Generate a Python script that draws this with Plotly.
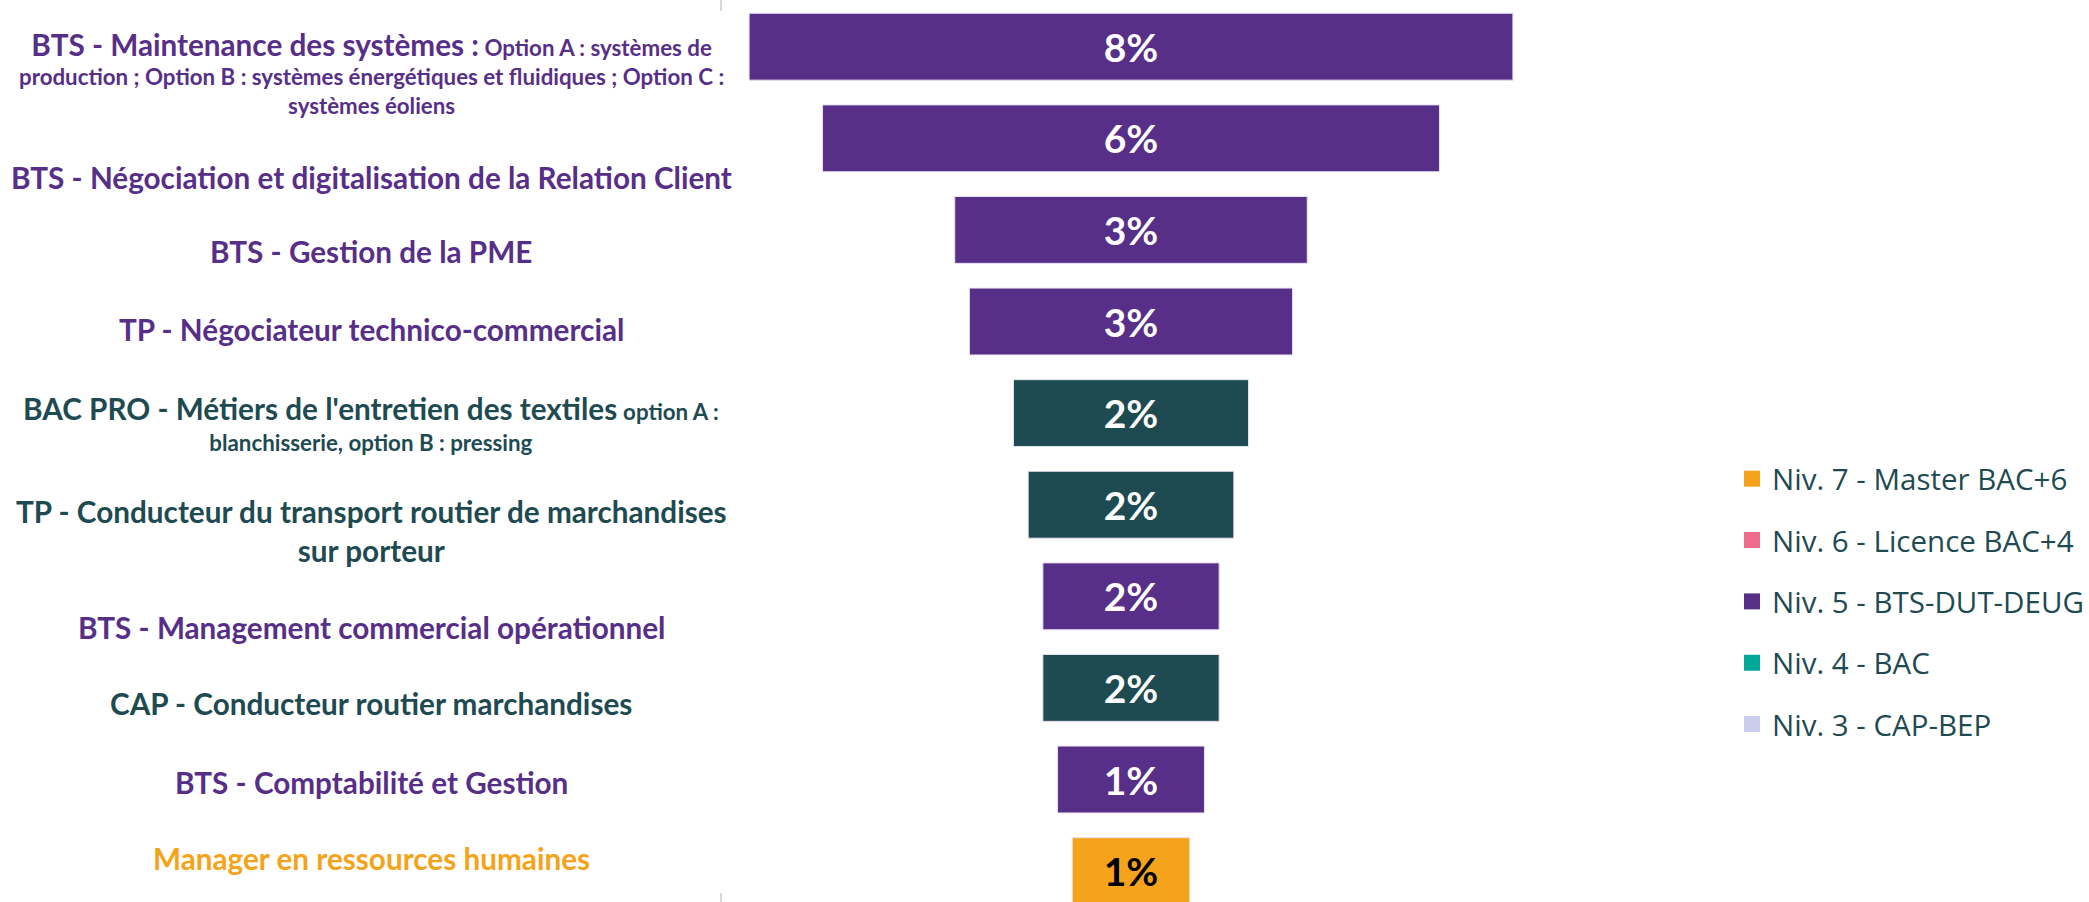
import plotly.graph_objects as go

# formations (top -> bottom), part des inscrits en %
formations = [
    "BTS - Maintenance des systèmes : Option A : systèmes de production ; Option B : systèmes énergétiques et fluidiques ; Option C : systèmes éoliens",
    "BTS - Négociation et digitalisation de la Relation Client",
    "BTS - Gestion de la PME",
    "TP - Négociateur technico-commercial",
    "BAC PRO - Métiers de l'entretien des textiles option A : blanchisserie, option B : pressing",
    "TP - Conducteur du transport routier de marchandises sur porteur",
    "BTS - Management commercial opérationnel",
    "CAP - Conducteur routier marchandises",
    "BTS - Comptabilité et Gestion",
    "Manager en ressources humaines",
]
parts = [7.54, 6.09, 3.48, 3.19, 2.32, 2.03, 1.74, 1.74, 1.45, 1.16]
niveaux = ["5", "5", "5", "5", "4", "3", "5", "3", "5", "7"]

legend_names = [
    "Niv. 7 - Master BAC+6",
    "Niv. 6 - Licence BAC+4",
    "Niv. 5 - BTS-DUT-DEUG",
    "Niv. 4 - BAC",
    "Niv. 3 - CAP-BEP",
]

# label text as displayed (mixed sizes, manual line breaks)
BIG = 'style="font-size:29.7px"'
SMALL = 'style="font-size:22.3px"'
labels_html = [
    f'<span {BIG}>BTS - Maintenance des systèmes :</span> Option A : systèmes de<br>'
    'production ; Option B : systèmes énergétiques et fluidiques ; Option C :<br>systèmes éoliens',
    "BTS - Négociation et digitalisation de la Relation Client",
    "BTS - Gestion de la PME",
    "TP - Négociateur technico-commercial",
    f"<span {BIG}>BAC PRO - Métiers de l'entretien des textiles</span> <span {SMALL}>option A :</span><br>"
    f"<span {SMALL}>blanchisserie, option B : pressing</span>",
    "TP - Conducteur du transport routier de marchandises<br>sur porteur",
    "BTS - Management commercial opérationnel",
    "CAP - Conducteur routier marchandises",
    "BTS - Comptabilité et Gestion",
    "Manager en ressources humaines",
]
label_sizes = [22.3, 29.7, 29.7, 29.7, 24, 29.7, 29.7, 29.7, 29.7, 29.7]

PURPLE = "#572F88"
TEAL_DARK = "#1E4A52"
ORANGE = "#F5A31A"
bar_colors = {"7": ORANGE, "5": PURPLE, "4": TEAL_DARK, "3": TEAL_DARK}
legend_colors = ["#F5A31A", "#EE6B8D", "#572F88", "#00A898", "#CBCDEE"]

W, H = 2089, 902
LABEL_FONT = "Lato, sans-serif"

colors = [bar_colors[n] for n in niveaux]
text_colors = ["black" if n == "7" else "white" for n in niveaux]

fig = go.Figure()
fig.add_trace(go.Funnel(
    y=formations,
    x=parts,
    text=[f"{round(v)}%" for v in parts],
    textinfo="text",
    textposition="inside",
    insidetextanchor="middle",
    constraintext="none",
    textfont=dict(family=LABEL_FONT, size=39, color=text_colors, weight=700),
    marker=dict(color=colors, line=dict(width=1, color="#E6E0EE")),
    connector=dict(visible=False),
    showlegend=False,
    hoverinfo="y+x",
))

for i, (name, c) in enumerate(zip(legend_names, legend_colors)):
    fig.add_trace(go.Scatter(
        x=[None], y=[None], mode="markers", name=name,
        marker=dict(symbol="square", size=16, color=c),
        legendgroup=f"g{i}", showlegend=True,
    ))

# left labels, centred in the left column
label_px = [73, 177, 252, 329, 423, 531, 627, 703, 782, 858]
for txt, py, n, sz in zip(labels_html, label_px, niveaux, label_sizes):
    fig.add_annotation(
        x=371 / W, y=1 - py / H, xref="paper", yref="paper",
        text=txt, showarrow=False, align="center",
        xanchor="center", yanchor="middle",
        font=dict(family=LABEL_FONT, size=sz, color=bar_colors[n], weight=700),
    )

# faint axis line fragments visible at top and bottom
for y0, y1 in [(0, 11), (893, 902)]:
    fig.add_shape(type="line", xref="paper", yref="paper",
                  x0=721 / W, x1=721 / W, y0=1 - y0 / H, y1=1 - y1 / H,
                  line=dict(color="#D9D9D9", width=2))

half = 411 / 101.3
fig.update_layout(
    width=W, height=H,
    margin=dict(l=0, r=0, t=0, b=0, autoexpand=False),
    paper_bgcolor="white", plot_bgcolor="white",
    funnelgap=0.27,
    xaxis=dict(domain=[720 / W, 1542 / W], range=[-half, half], visible=False),
    yaxis=dict(range=[9.337, -0.51], visible=False),
    legend=dict(
        x=1732 / W, y=1 - 453 / H, xanchor="left", yanchor="top",
        font=dict(family="Open Sans, sans-serif", size=29.5, color="#1E4A52"),
        tracegroupgap=20, traceorder="grouped", bgcolor="rgba(0,0,0,0)",
    ),
)

fig.write_html("out.html", config={"displayModeBar": False},
               post_script="document.body.style.margin='0';")
